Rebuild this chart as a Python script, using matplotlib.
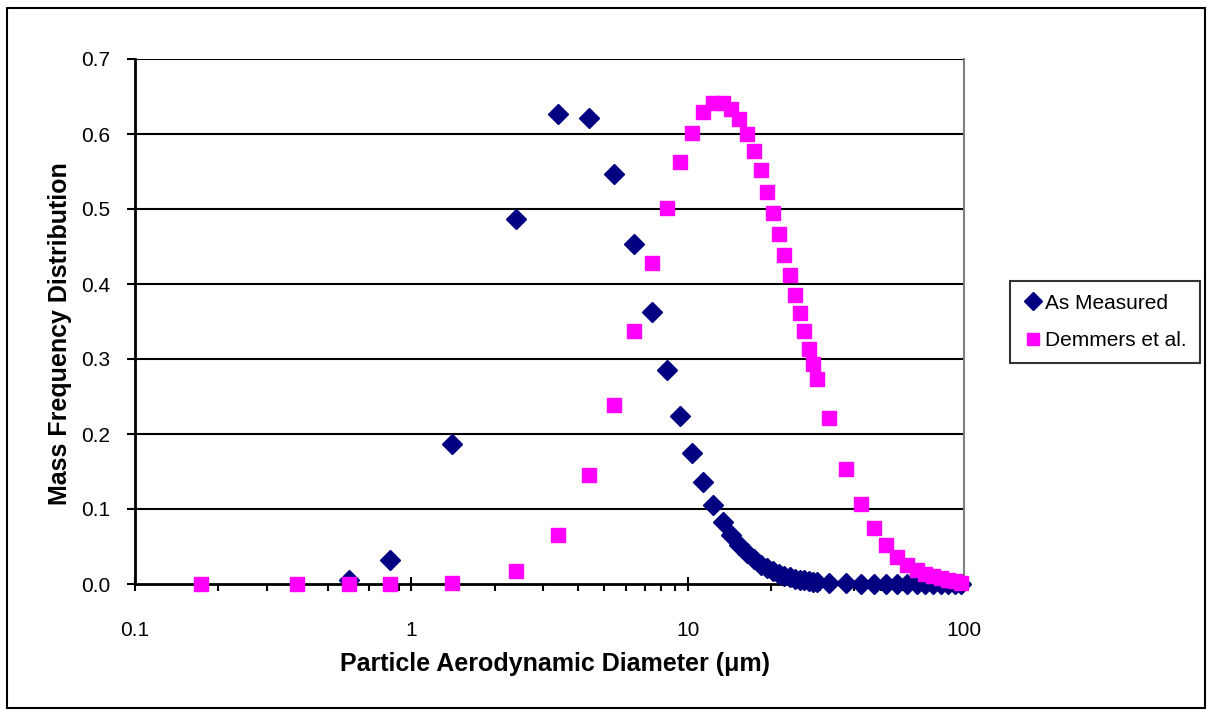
import matplotlib
matplotlib.use('Agg')
import matplotlib.pyplot as plt
from matplotlib.patches import Rectangle
from matplotlib.ticker import FuncFormatter, NullFormatter, LogLocator
import numpy as np

plt.rcParams['font.family'] = ['Liberation Sans', 'DejaVu Sans']

# particle diameter (um) - size bins
diam = [0.173, 0.386, 0.594, 0.836, 1.4, 2.4, 3.4, 4.4, 5.4, 6.4, 7.4, 8.4, 9.4,
        10.4, 11.4, 12.4, 13.4, 14.4, 15.4, 16.4, 17.4, 18.4, 19.4, 20.4, 21.4,
        22.4, 23.4, 24.4, 25.4, 26.4, 27.4, 28.4, 29.4, 32.4, 37.4, 42.4, 47.4,
        52.4, 57.4, 62.4, 67.4, 72.4, 77.4, 82.4, 87.4, 92.4, 97.4]

# as measured (starts at the 0.594 bin)
diam_meas = diam[2:]
measured = [0.005, 0.032, 0.187, 0.487, 0.627, 0.621, 0.547, 0.453,
            0.363, 0.286, 0.224, 0.175, 0.136, 0.106, 0.083, 0.065, 0.052, 0.041,
            0.033, 0.026, 0.021, 0.017, 0.014, 0.011, 0.009, 0.007, 0.006, 0.005,
            0.004, 0.003, 0.003, 0.002, 0.001, 0.0, 0.0, 0.0, 0.0, 0.0, 0.0, 0.0,
            0.0, 0.0, 0.0, 0.0, 0.0]

# Demmers et al.
demmers = [0.0, 0.0, 0.0, 0.0, 0.001, 0.017, 0.065, 0.145, 0.239, 0.338, 0.428,
           0.502, 0.562, 0.602, 0.629, 0.642, 0.641, 0.633, 0.620, 0.600, 0.577,
           0.552, 0.523, 0.495, 0.467, 0.439, 0.412, 0.386, 0.361, 0.337, 0.314,
           0.293, 0.273, 0.222, 0.154, 0.107, 0.075, 0.052, 0.036, 0.025, 0.019,
           0.014, 0.011, 0.008, 0.006, 0.004, 0.002]

yticks = [0.0, 0.1, 0.2, 0.3, 0.4, 0.5, 0.6, 0.7]
W, H = 1211, 715

fig = plt.figure(figsize=(W/100, H/100), dpi=100)
# chart area border
fig.patches.append(Rectangle((7/W, 1-708/H), 1198/W, 700/H, transform=fig.transFigure,
                             fill=False, edgecolor='black', linewidth=1.5))

ax = fig.add_axes([135/W, 1-584/H, (964-135)/W, (584-59)/H])
ax.set_xscale('log')
ax.set_xlim(0.1, 100)
ax.set_ylim(0, 0.7)

for y in yticks[1:]:
    ax.axhline(y, color='black', lw=1.5, zorder=1)

ax.plot(diam_meas, measured, linestyle='none', marker='D', ms=10, color='#000080',
        markeredgecolor='#000080', label='As Measured', zorder=3, clip_on=False)
ax.plot(diam, demmers, linestyle='none', marker='s', ms=10.5, color='#FF00FF',
        markeredgecolor='#FF00FF', label='Demmers et al.', zorder=4, clip_on=False)

ax.set_yticks(yticks)
ax.yaxis.set_major_formatter(FuncFormatter(lambda v, p: '%.1f' % v))
ax.xaxis.set_major_locator(LogLocator(base=10, numticks=10))
ax.xaxis.set_minor_locator(LogLocator(base=10, subs=np.arange(2, 10), numticks=20))
ax.xaxis.set_major_formatter(FuncFormatter(lambda v, p: '%g' % v))
ax.xaxis.set_minor_formatter(NullFormatter())

ax.tick_params(axis='y', direction='out', length=6, width=1.5, labelsize=15, pad=12)
ax.tick_params(axis='x', which='major', direction='inout', length=10, width=1.5,
               labelsize=15, pad=22)
ax.tick_params(axis='x', which='minor', direction='out', length=5, width=1.5)

ax.spines['top'].set_visible(False)
ax.spines['right'].set_color('#808080')
ax.spines['right'].set_linewidth(1.5)
ax.spines['left'].set_linewidth(2)
ax.spines['bottom'].set_linewidth(2)

ax.set_xlabel('Particle Aerodynamic Diameter (\u03bcm)', fontsize=18, fontweight='bold')
ax.set_ylabel('Mass Frequency Distribution', fontsize=18, fontweight='bold')
ax.xaxis.set_label_coords(0.507, -0.129)
ax.yaxis.set_label_coords(-0.076, 0.476)

leg = ax.legend(loc='center left', bbox_to_anchor=(1010/W, 1-322/H),
                bbox_transform=fig.transFigure, fontsize=15, frameon=True,
                fancybox=False, borderaxespad=0, handletextpad=0.1,
                handlelength=1.0, borderpad=0.6, labelspacing=0.9)
leg.get_frame().set_edgecolor('black')
leg.get_frame().set_linewidth(1.5)
for h in leg.legend_handles:
    h.set_markersize(9)

fig.savefig('out.png', dpi=100)
